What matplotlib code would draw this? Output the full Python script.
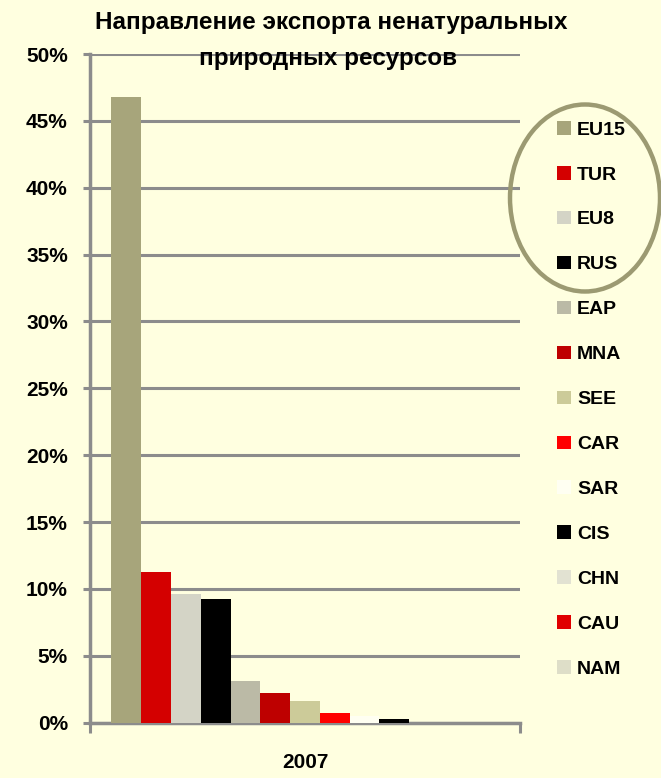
import matplotlib
matplotlib.use("Agg")
import matplotlib.pyplot as plt
from matplotlib.patches import Patch, Ellipse

plt.rcParams['font.family'] = ['Liberation Sans', 'DejaVu Sans']

categories = ["2007"]
regions = ["EU15", "TUR", "EU8", "RUS", "EAP", "MNA", "SEE", "CAR", "SAR", "CIS", "CHN", "CAU", "NAM"]
shares = [46.8, 11.3, 9.65, 9.25, 3.15, 2.2, 1.6, 0.75, 0.5, 0.25, 0.0, 0.0, 0.0]
colors = ["#A7A57B", "#D40000", "#D4D4C6", "#000000", "#BBBAA6", "#BE0000", "#CCCB99",
          "#FF0000", "#FFFFF2", "#000000", "#E2E2D2", "#E00000", "#DEDEC8"]
yticks = [0, 5, 10, 15, 20, 25, 30, 35, 40, 45, 50]
title_lines = ["Направление экспорта ненатуральных", "природных ресурсов"]

bg = "#FFFFE0"
W, H = 661, 778
fig = plt.figure(figsize=(W / 100, H / 100), dpi=100, facecolor=bg)
ax = fig.add_axes([90 / W, (H - 722.7) / H, 430 / W, (722.7 - 54) / H], facecolor=bg)

n = len(regions)
bw = 0.0693
for i, (r, v, c) in enumerate(zip(regions, shares, colors)):
    ax.bar((i - (n - 1) / 2) * bw, v, width=bw, color=c, label=r, zorder=3)

ax.set_xlim(-0.5, 0.5)
ax.set_ylim(0, 50)
ax.set_yticks(yticks)
ax.set_yticklabels([f"{t}%" for t in yticks], fontsize=15, fontweight='bold')
ax.yaxis.grid(True, color="#8C8C8C", linewidth=2.2, zorder=0)
ax.tick_params(axis='y', length=5, width=2.2, color="#8C8C8C", pad=11)

ax.set_xticks([0])
ax.set_xticklabels(categories, fontsize=15, fontweight='bold')
ax.set_xticks([-0.5, 0.5], minor=True)
ax.tick_params(axis='x', which='major', length=0, pad=22)
ax.tick_params(axis='x', which='minor', length=7, width=2.2, color="#8C8C8C")

for s in ['top', 'right']:
    ax.spines[s].set_visible(False)
for s in ['left', 'bottom']:
    ax.spines[s].set_color("#8C8C8C")
    ax.spines[s].set_linewidth(2.5)

handles = [Patch(facecolor=c, edgecolor='none') for c in colors]
leg = fig.legend(handles, regions, loc='upper left', bbox_to_anchor=(557 / W, 1 - 121 / H),
                 frameon=False, prop={'weight': 'bold', 'size': 14},
                 handlelength=0.72, handleheight=0.7, handletextpad=0.32,
                 labelspacing=1.405, borderaxespad=0, borderpad=0)

fig.text(331 / W, 1 - 22 / H, title_lines[0], ha='center', va='center', fontsize=17.5,
         fontweight='bold')
fig.text(328 / W, 1 - 58 / H, title_lines[1], ha='center', va='center', fontsize=17.5,
         fontweight='bold')

fig.add_artist(Ellipse((585 / W, 1 - 198 / H), 150 / W, 187 / H, transform=fig.transFigure,
                       fill=False, edgecolor="#9C9A72", linewidth=3.2))

fig.savefig("out.png", dpi=100, facecolor=bg)
